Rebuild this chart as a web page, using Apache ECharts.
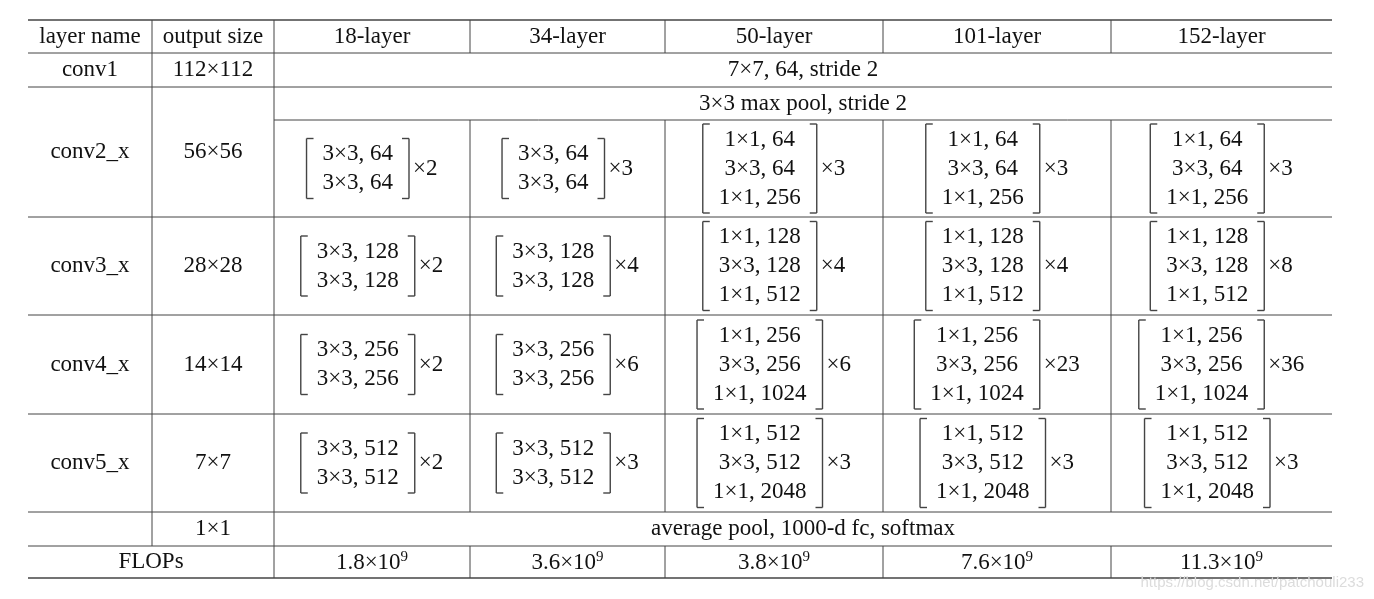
<!DOCTYPE html>
<html>
<head>
<meta charset="utf-8">
<script src="https://cdn.jsdelivr.net/npm/echarts@6/dist/echarts.min.js"></script>
<style>
html,body{margin:0;padding:0;background:#fff;}
#main{width:1374px;height:599px;}
</style>
</head>
<body>
<div id="main"></div>
<script>
// table content
var headers = ['layer name', 'output size', '18-layer', '34-layer', '50-layer', '101-layer', '152-layer'];
var stageNames = ['conv2_x', 'conv3_x', 'conv4_x', 'conv5_x'];
var outputSizes = ['56×56', '28×28', '14×14', '7×7'];
var channels = [64, 128, 256, 512];
var repeats = [
    [2, 3, 3, 3, 3],
    [2, 4, 4, 4, 8],
    [2, 6, 6, 23, 36],
    [2, 3, 3, 3, 3]
];
var flops = ['1.8', '3.6', '3.8', '7.6', '11.3'];

// layout (pixels)
var colX = [28, 152, 274, 470, 665, 883, 1111, 1332];
var rowY = [20, 53, 87, 120, 217, 315, 414, 512, 546, 578];
var FONT = '"Liberation Serif", "DejaVu Serif", serif';
var FS = 23;

var ctx = document.createElement('canvas').getContext('2d');
ctx.font = FS + 'px ' + FONT;
function tw(s) { return ctx.measureText(s).width; }

function renderItem(params, api) {
    var kids = [];
    function P(x, y) { return api.coord([x, y]); }
    function line(x1, y1, x2, y2, w) {
        var a = P(x1, y1), b = P(x2, y2);
        kids.push({type: 'line', shape: {x1: a[0], y1: a[1], x2: b[0], y2: b[1]},
            style: {stroke: '#444', lineWidth: w || 1}});
    }
    function text(s, x, y, align) {
        var a = P(x, y);
        kids.push({type: 'text', x: a[0], y: a[1], style: {text: s, font: FS + 'px ' + FONT,
            fill: '#111', align: align || 'center', verticalAlign: 'middle'}});
    }
    function mid(i) { return (colX[i] + colX[i + 1]) / 2; }
    function rmid(j) { return (rowY[j] + rowY[j + 1]) / 2; }

    // horizontal rules
    for (var j = 0; j < rowY.length; j++) {
        if (j === 3) line(colX[2], rowY[j], colX[7], rowY[j]);
        else line(colX[0], rowY[j], colX[7], rowY[j], (j === 0 || j === rowY.length - 1) ? 1.3 : 1);
    }
    // vertical rules
    function vr(xs, y1, y2) { xs.forEach(function (i) { line(colX[i], y1, colX[i], y2); }); }
    vr([1, 2, 3, 4, 5, 6], rowY[0], rowY[1]);
    vr([1, 2], rowY[1], rowY[3]);
    vr([1], rowY[3], rowY[4]);
    vr([2, 3, 4, 5, 6], rowY[3], rowY[4]);
    vr([1, 2, 3, 4, 5, 6], rowY[4], rowY[7]);
    vr([1, 2], rowY[7], rowY[8]);
    vr([2, 3, 4, 5, 6], rowY[8], rowY[9]);

    // header
    headers.forEach(function (h, i) { text(h, mid(i), rmid(0)); });
    // conv1
    text('conv1', mid(0), rmid(1));
    text('112×112', mid(1), rmid(1));
    text('7×7, 64, stride 2', (colX[2] + colX[7]) / 2, rmid(1));
    text('3×3 max pool, stride 2', (colX[2] + colX[7]) / 2, rmid(2));

    // stages
    stageNames.forEach(function (name, s) {
        var top = s === 0 ? rowY[2] : rowY[s + 3], bot = rowY[s + 4];
        text(name, mid(0), (top + bot) / 2);
        text(outputSizes[s], mid(1), (top + bot) / 2);
        var c = channels[s];
        var cy = (rowY[s + 3] + rowY[s + 4]) / 2;
        for (var k = 0; k < 5; k++) {
            var lines = k < 2 ? ['3×3, ' + c, '3×3, ' + c] : ['1×1, ' + c, '3×3, ' + c, '1×1, ' + (c * 4)];
            var lh = 29;
            var wmax = Math.max.apply(null, lines.map(tw));
            var mult = '×' + repeats[s][k];
            var pad = 18;
            var gw = pad + wmax + pad + 4 + tw(mult);
            var x0 = mid(k + 2) - gw / 2;
            var tc = x0 + pad + wmax / 2;
            lines.forEach(function (l, li) { text(l, tc, cy + (li - (lines.length - 1) / 2) * lh); });
            var bh = lines.length * lh / 2 + 1;
            var xl = x0 + 2, xr = x0 + 2 * pad + wmax - 2;
            line(xl, cy - bh, xl, cy + bh, 1.4);
            line(xl, cy - bh, xl + 7, cy - bh, 1.4);
            line(xl, cy + bh, xl + 7, cy + bh, 1.4);
            line(xr, cy - bh, xr, cy + bh, 1.4);
            line(xr, cy - bh, xr - 7, cy - bh, 1.4);
            line(xr, cy + bh, xr - 7, cy + bh, 1.4);
            text(mult, xr + 4, cy, 'left');
        }
    });

    // final rows
    text('1×1', mid(1), rmid(7));
    text('average pool, 1000-d fc, softmax', (colX[2] + colX[7]) / 2, rmid(7));
    text('FLOPs', (colX[0] + colX[2]) / 2, rmid(8));
    flops.forEach(function (f, k) {
        var a = P(mid(k + 2), rmid(8) + 1);
        kids.push({type: 'text', x: a[0], y: a[1], style: {
            text: '{b|' + f + '×10}{s|9}', align: 'center', verticalAlign: 'middle',
            rich: {b: {font: FS + 'px ' + FONT, fill: '#111'},
                   s: {font: '15px ' + FONT, fill: '#111', padding: [0, 0, 11, 0]}}}});
    });
    var w = P(1364, 583);
    kids.push({type: 'text', x: w[0], y: w[1], style: {text: 'https://blog.csdn.net/patchouli233',
        font: '15px "Liberation Sans", sans-serif', fill: '#dcdcdc', align: 'right', verticalAlign: 'middle'}});
    return {type: 'group', children: kids};
}

var chart = echarts.init(document.getElementById('main'));
chart.setOption({
    animation: false,
    grid: {left: 0, right: 0, top: 0, bottom: 0},
    xAxis: {type: 'value', min: 0, max: 1374, show: false},
    yAxis: {type: 'value', min: 0, max: 599, inverse: true, show: false},
    series: [{type: 'custom', renderItem: renderItem, data: [[0, 0]], clip: false}]
});
</script>
</body>
</html>
